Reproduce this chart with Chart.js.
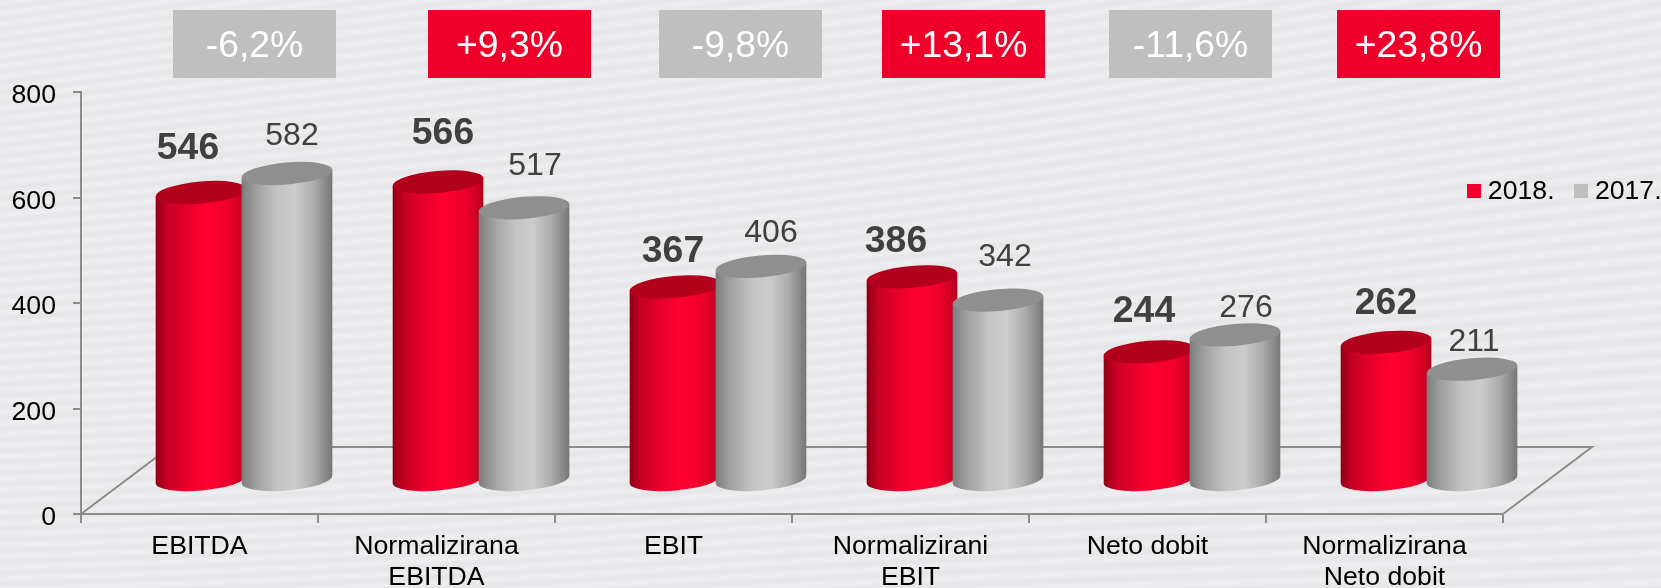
<!DOCTYPE html>
<html>
<head>
<meta charset="utf-8">
<style>
html,body{margin:0;padding:0;width:1661px;height:588px;overflow:hidden;background:#e8e9eb}
canvas{position:absolute;left:0;top:0;display:block}
</style>
<script src="https://cdn.jsdelivr.net/npm/chart.js@4"></script>
</head>
<body>
<canvas id="bg" width="1661" height="588"></canvas>
<canvas id="c" width="1661" height="588"></canvas>
<script>
const categories = [['EBITDA'],['Normalizirana','EBITDA'],['EBIT'],['Normalizirani','EBIT'],['Neto dobit'],['Normalizirana','Neto dobit']];
const seriesNames = ['2018.','2017.'];
const values2018 = [546,566,367,386,244,262];
const values2017 = [582,517,406,342,276,211];
const yTicks = [0,200,400,600,800];
const changeLabels = ['-6,2%','+9,3%','-9,8%','+13,1%','-11,6%','+23,8%'];
const changeBoxCentres = [254.5,509.5,740.5,963.5,1190.5,1418.5];

const RED='#EE002B', GREY='#BFBFBF', AXIS='#8C8C8C', INK='#404040';
const depthX=89, depthY=67;
const nudge2018=[[-13,-44],[5,-48],[-2,-35],[-16,-35],[-5,-40],[0,-39]];
const nudge2017=[[5,-37],[11,-42],[10,-33],[7,-43],[11,-27],[2,-27]];
const boldFont='bold 37.33px "Liberation Sans"', plainFont='32px "Liberation Sans"';

// decorative woven background
(function(){
  const cv=document.getElementById('bg'),g=cv.getContext('2d'),im=g.createImageData(1661,588),d=im.data;
  let p=0;
  for(let y=0;y<588;y++){
    const s=0.125-0.00015*y;
    for(let x=0;x<1661;x++){
      const ph=(y+x*s+4*Math.sin(x/230+y/150))/10.8;
      const v=233.5+4*Math.sin(ph*2*Math.PI);
      d[p++]=v-0.5;d[p++]=v;d[p++]=v+1.5;d[p++]=255;
    }
  }
  g.putImageData(im,0,0);
})();

function swatch(col){
  const s=document.createElement('canvas');s.width=14;s.height=14;
  const g=s.getContext('2d');g.fillStyle=col;g.fillRect(0,0,14,14);return s;
}

function cylinder(ctx,cx,top,base,w,stops,cap){
  const a=w/2,b=11,rot=-5*Math.PI/180,dy=a*Math.sin(-rot),dx=a*Math.cos(rot);
  const gr=ctx.createLinearGradient(cx-dx,0,cx+dx,0);
  stops.forEach(s=>gr.addColorStop(s[0],s[1]));
  ctx.save();
  ctx.fillStyle=gr;
  ctx.beginPath();
  ctx.moveTo(cx-dx,top+dy);
  ctx.lineTo(cx-dx,base+dy);
  ctx.ellipse(cx,base,a,b,rot,Math.PI,0,true);
  ctx.lineTo(cx+dx,top-dy);
  ctx.closePath();
  ctx.fill();
  ctx.fillStyle=cap;
  ctx.beginPath();
  ctx.ellipse(cx,top,a,b,rot,0,2*Math.PI);
  ctx.fill();
  ctx.restore();
}
const redStops=[[0,'#8E0016'],[.12,'#C40022'],[.3,'#E2002A'],[.55,'#FF0030'],[.8,'#EE002B'],[.95,'#C80024'],[1,'#A8001C']];
const greyStops=[[0,'#7C7C7C'],[.15,'#9E9E9E'],[.4,'#C4C4C4'],[.6,'#CCCCCC'],[.8,'#ACACAC'],[1,'#767676']];

const scene={
  id:'scene',
  afterLayout(chart){
    const l=chart.legend;
    l.left=1447.5;l.right=1800;l.top=152;l.bottom=240;
  },
  beforeDatasetsDraw(chart){
    const {ctx,chartArea:c}=chart;
    ctx.save();
    ctx.strokeStyle=AXIS;ctx.lineWidth=2;
    ctx.beginPath();
    ctx.moveTo(c.left,c.bottom);
    ctx.lineTo(c.left+depthX,c.bottom-depthY);
    ctx.lineTo(c.right+depthX,c.bottom-depthY);
    ctx.lineTo(c.right,c.bottom);
    ctx.stroke();
    ctx.restore();
  },
  beforeDatasetDraw(){return false;},
  afterDatasetsDraw(chart){
    const ctx=chart.ctx;
    [[0,redStops,'#B3001D'],[1,greyStops,'#8F8F8F']].forEach(cfg=>{
      chart.getDatasetMeta(cfg[0]).data.forEach(el=>{
        const p=el.getProps(['x','y','base','width'],true);
        cylinder(ctx,p.x+depthX/2,p.y-depthY/2,p.base-depthY/2,p.width,cfg[1],cfg[2]);
      });
    });
    [[0,nudge2018,boldFont],[1,nudge2017,plainFont]].forEach(cfg=>{
      const ds=chart.data.datasets[cfg[0]];
      chart.getDatasetMeta(cfg[0]).data.forEach((el,i)=>{
        const p=el.getProps(['x','y'],true);
        ctx.save();
        ctx.font=cfg[2];ctx.fillStyle=INK;ctx.textAlign='center';ctx.textBaseline='middle';
        ctx.fillText(String(ds.data[i]),p.x+depthX/2+cfg[1][i][0],p.y-depthY/2+cfg[1][i][1]);
        ctx.restore();
      });
    });
    changeLabels.forEach((t,i)=>{
      const cx=changeBoxCentres[i];
      ctx.save();
      ctx.fillStyle=t[0]==='+'?RED:GREY;
      ctx.fillRect(cx-81.5,10,163,68);
      ctx.fillStyle='#fff';ctx.font='37.33px "Liberation Sans"';ctx.textAlign='center';ctx.textBaseline='middle';
      ctx.fillText(t,cx,47);
      ctx.restore();
    });
  }
};

new Chart(document.getElementById('c'),{
  type:'bar',
  data:{labels:categories,datasets:[
    {label:seriesNames[0],data:values2018,backgroundColor:RED},
    {label:seriesNames[1],data:values2017,backgroundColor:GREY}
  ]},
  options:{
    responsive:false,animation:false,
    layout:{padding:{top:91,right:158,bottom:0,left:0}},
    datasets:{bar:{categoryPercentage:0.7257,barPercentage:1.058}},
    plugins:{
      tooltip:{enabled:false},
      legend:{
        display:true,position:'top',align:'start',maxHeight:1,
        labels:{
          usePointStyle:true,boxHeight:1,boxWidth:1,padding:26,color:'#000',
          font:{family:'"Liberation Sans"',size:26.67},
          generateLabels(chart){
            return chart.data.datasets.map((d,i)=>({text:d.label,fillStyle:d.backgroundColor,strokeStyle:d.backgroundColor,lineWidth:0,datasetIndex:i,pointStyle:swatch(d.backgroundColor)}));
          }
        }
      }
    },
    scales:{
      x:{
        grid:{drawOnChartArea:false,drawTicks:true,tickLength:9,tickWidth:2,tickColor:AXIS,color:AXIS,lineWidth:2},
        border:{color:AXIS,width:2},
        afterFit(s){s.height=74;},
        ticks:{color:'#000',font:{family:'"Liberation Sans"',size:26.67,lineHeight:1.13},padding:9,maxRotation:0,autoSkip:false}
      },
      y:{
        min:0,max:800,
        afterFit(s){
          s.width=81;
          const orig=s._computeLabelItems;
          s._computeLabelItems=function(ca){
            return orig.call(s,ca).map(it=>{it.options.translation[1]+=2;return it;});
          };
        },
        grid:{drawOnChartArea:false,drawTicks:true,tickLength:8,tickWidth:2,tickColor:AXIS,color:AXIS,lineWidth:2},
        border:{color:AXIS,width:2},
        afterBuildTicks(s){s.ticks=yTicks.map(v=>({value:v}));},
        ticks:{color:'#000',font:{family:'"Liberation Sans"',size:26.67},padding:17}
      }
    }
  },
  plugins:[scene]
});
</script>
</body>
</html>
